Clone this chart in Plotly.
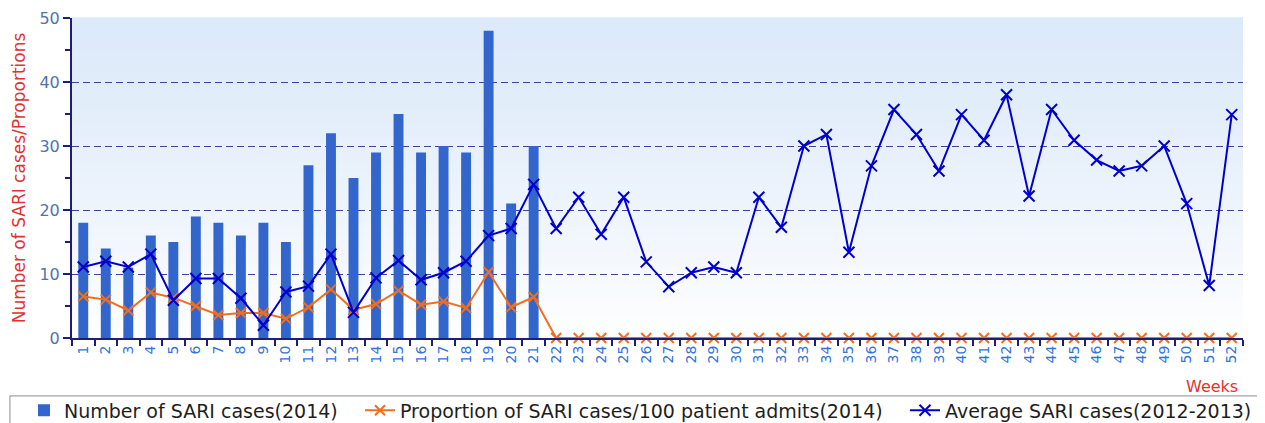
import plotly.graph_objects as go

weeks = [str(i) for i in range(1, 53)]

sari_cases_2014 = [18, 14, 11, 16, 15, 19, 18, 16, 18, 15, 27, 32, 25, 29, 35, 29, 30, 29, 48, 21, 30]

proportion_2014 = [6.5, 6.0, 4.3, 7.1, 6.3, 5.0, 3.6, 3.9, 3.9, 3.0, 4.8, 7.6, 4.4, 5.3, 7.4, 5.2, 5.7, 4.7, 10.3, 4.8, 6.4,
                   0, 0, 0, 0, 0, 0, 0, 0, 0, 0, 0, 0, 0, 0, 0, 0, 0, 0, 0, 0, 0, 0, 0, 0, 0, 0, 0, 0, 0, 0, 0]

average_2012_2013 = [11.1, 12.0, 11.1, 13.1, 5.9, 9.3, 9.3, 6.2, 2.0, 7.2, 8.1, 13.1, 4.0, 9.4, 12.1, 9.1, 10.2, 12.0,
                     16.0, 17.1, 24.0, 17.1, 22.0, 16.2, 22.0, 11.9, 8.0, 10.2, 11.1, 10.2, 22.0, 17.3, 30.0, 31.8,
                     13.4, 26.9, 35.7, 31.8, 26.1, 34.9, 30.9, 38.0, 22.2, 35.7, 30.9, 27.8, 26.1, 26.9, 30.0, 21.0,
                     8.2, 34.9]

y_ticks = [0, 10, 20, 30, 40, 50]

FONT = "DejaVu Sans"
BAR_COLOR = "rgb(51,102,204)"
ORANGE = "rgb(240,110,30)"
BLUE = "rgb(0,0,205)"
AXIS = "rgb(30,30,120)"

fig = go.Figure()

fig.add_trace(go.Bar(
    x=weeks[:len(sari_cases_2014)], y=sari_cases_2014,
    name="Number of SARI cases(2014)", legend="legend",
    marker=dict(color=BAR_COLOR, line=dict(width=0)),
))
fig.add_trace(go.Scatter(
    x=weeks, y=proportion_2014, mode="lines+markers",
    name="Proportion of SARI cases/100 patient admits(2014)", legend="legend2",
    line=dict(color=ORANGE, width=2),
    marker=dict(symbol="x-thin-open", size=10, line=dict(color=ORANGE, width=2), color=ORANGE),
    cliponaxis=False,
))
fig.add_trace(go.Scatter(
    x=weeks, y=average_2012_2013, mode="lines+markers",
    name="Average SARI cases(2012-2013)", legend="legend3",
    line=dict(color=BLUE, width=2),
    marker=dict(symbol="x-thin-open", size=11, line=dict(color=BLUE, width=2), color=BLUE),
))

# gradient background strips
shapes = []
n = 60
top = (221, 234, 250)
for i in range(n):
    f0 = i / n
    f1 = (i + 1) / n
    t = 1 - (f0 + f1) / 2  # 1 at bottom, 0 at top
    w = t ** 1.3
    r = int(top[0] + (255 - top[0]) * w)
    g = int(top[1] + (255 - top[1]) * w)
    b = int(top[2] + (255 - top[2]) * w)
    shapes.append(dict(type="rect", xref="paper", yref="paper", x0=0, x1=1, y0=f0, y1=f1 + 0.002,
                       fillcolor=f"rgb({r},{g},{b})", line=dict(width=0), layer="below"))
# legend frame
shapes.append(dict(type="rect", xref="paper", yref="paper", x0=-0.053, x1=1.0162, y0=-0.29, y1=-0.181,
                   line=dict(color="rgb(140,140,140)", width=1), fillcolor="rgba(0,0,0,0)", layer="above"))

legend_common = dict(orientation="h", y=-0.226, yanchor="middle",
                     font=dict(family=FONT, size=19, color="rgb(30,30,30)"),
                     bgcolor="rgba(0,0,0,0)", borderwidth=0, xanchor="left")

# page body has an 8px margin: figure is 1257x415 so the visible area is 1265x423
fig.update_layout(
    width=1257, height=415,
    margin=dict(l=64, r=22, t=10, b=85, autoexpand=False),
    paper_bgcolor="white",
    plot_bgcolor="white",
    font=dict(family=FONT, size=13),
    bargap=0.56,
    shapes=shapes,
    showlegend=True,
    legend=dict(x=(24 - 72) / 1171, **legend_common),
    legend2=dict(x=(360 - 72) / 1171, **legend_common),
    legend3=dict(x=(905 - 72) / 1171, **legend_common),
    annotations=[dict(text="Weeks", xref="paper", yref="paper", x=(1240 - 72) / 1171, y=-0.152,
                      xanchor="right", yanchor="middle", showarrow=False,
                      font=dict(family=FONT, size=16, color="rgb(225,50,50)"))],
)

fig.update_xaxes(
    type="category", categoryorder="array", categoryarray=weeks,
    range=[-0.5, 51.5], automargin=False,
    tickangle=-90, tickson="boundaries", ticks="outside", ticklen=6, tickcolor=AXIS, tickwidth=1.5,
    showline=True, linecolor=AXIS, linewidth=2,
    showgrid=False, zeroline=False,
    tickfont=dict(family=FONT, size=14, color="rgb(50,115,220)"),
)
fig.update_yaxes(
    range=[0, 50], tickvals=y_ticks, ticks="outside", ticklen=7, tickcolor=AXIS, tickwidth=1.5,
    automargin=False,
    showline=True, linecolor=AXIS, linewidth=2,
    showgrid=True, gridcolor="rgb(65,65,150)", griddash="7px,4px", gridwidth=1.2,
    zeroline=False,
    minor=dict(dtick=5, ticks="outside", ticklen=5, tickcolor=AXIS, showgrid=False),
    tickfont=dict(family=FONT, size=16, color="rgb(80,115,175)"),
    title=dict(text="Number of SARI cases/Proportions", standoff=9,
               font=dict(family=FONT, size=17, color="rgb(225,50,50)")),
)

fig.write_html("out.html")
